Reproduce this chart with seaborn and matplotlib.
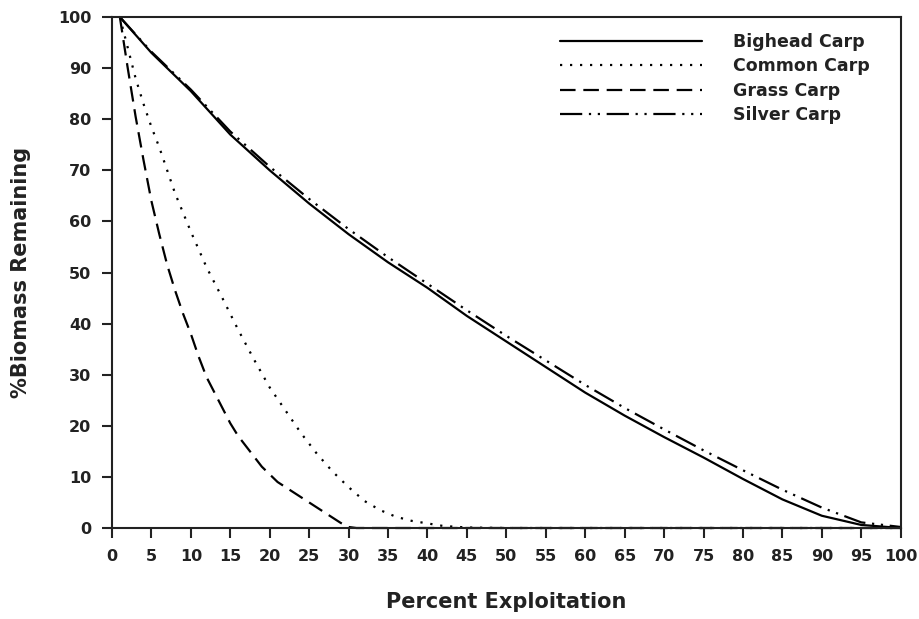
import pandas as pd
import matplotlib
matplotlib.use("Agg")
import matplotlib.pyplot as plt
import seaborn as sns

# values
pct_bighead = [1, 5, 10, 15, 20, 25, 30, 35, 40, 45, 50, 55, 60, 65, 70, 75, 80, 85, 90, 95, 100]
bighead = [100, 93, 85.5, 77, 70, 63.5, 57.5, 52, 47, 41.5, 36.5, 31.5, 26.5, 22, 17.8, 13.8, 9.6, 5.6, 2.4, 0.6, 0]

pct_silver = [1, 5, 10, 15, 20, 25, 30, 35, 40, 45, 50, 55, 60, 65, 70, 75, 80, 85, 90, 95, 100]
silver = [100, 93.2, 85.8, 77.6, 70.7, 64.4, 58.5, 53, 47.8, 42.6, 37.6, 32.8, 28, 23.5, 19.3, 15.2, 11.3, 7.5, 4, 1.1, 0.2]

pct_common = [1, 2, 3, 4, 5, 6, 8, 10, 12, 14, 16, 18, 20, 22, 24, 26, 28, 30, 32, 34, 36, 38, 40, 42, 45, 50, 60, 70, 80, 90, 100]
common = [100, 94, 88, 83, 78.5, 74.5, 65.5, 58, 51, 45, 38.8, 33, 27.5, 23, 18.5, 14.5, 11, 8, 5.3, 3.5, 2.2, 1.4, 0.9, 0.4, 0.1, 0, 0, 0, 0, 0, 0]

pct_grass = [1, 2, 3, 4, 5, 6, 7, 8, 9, 10, 11, 12, 13, 14, 15, 16, 17, 18, 19, 20, 21, 22, 23, 24, 25, 26, 27, 28, 29, 30, 31, 40, 50, 60, 70, 80, 90, 100]
grass = [100, 90, 80.5, 72, 64, 57.5, 51.5, 46.5, 42, 38, 33.5, 29.5, 26.5, 23.5, 20.5, 18, 16, 14, 12, 10.5, 9, 8, 7, 6, 5, 4, 3, 2, 1, 0.2, 0, 0, 0, 0, 0, 0, 0, 0]

species = ["Bighead Carp", "Common Carp", "Grass Carp", "Silver Carp"]

frames = []
for name, xs, ys in [("Bighead Carp", pct_bighead, bighead),
                     ("Common Carp", pct_common, common),
                     ("Grass Carp", pct_grass, grass),
                     ("Silver Carp", pct_silver, silver)]:
    frames.append(pd.DataFrame({"pct": xs, "biomass": ys, "species": name}))
df = pd.concat(frames, ignore_index=True)

sns.set_style("ticks")
plt.rcParams['font.family'] = ['DejaVu Sans']

fig = plt.figure(figsize=(9.2, 6.19), dpi=100)
ax = fig.add_axes([0.1217, 0.147, 0.8573, 0.8255])

dash_styles = {"Bighead Carp": "",
               "Common Carp": (1, 3.5),
               "Grass Carp": (7, 3.5),
               "Silver Carp": (10, 3, 1, 3, 1, 3)}

sns.lineplot(data=df, x="pct", y="biomass", hue="species", style="species",
             hue_order=species, style_order=species,
             palette=["black"] * 4, dashes=dash_styles, linewidth=1.6,
             sort=False, ax=ax, legend=True, clip_on=False)

ax.set_xlim(0, 100)
ax.set_ylim(0, 100)
ax.set_xticks(range(0, 101, 5))
ax.set_yticks(range(0, 101, 10))
for lab in ax.get_xticklabels() + ax.get_yticklabels():
    lab.set_fontweight('bold')
    lab.set_fontsize(11.5)
    lab.set_color('#222222')
ax.tick_params(axis='both', direction='out', length=7, width=1.5, color='#222222', pad=8)
for side in ['top', 'right', 'bottom', 'left']:
    ax.spines[side].set_visible(True)
    ax.spines[side].set_linewidth(1.5)
    ax.spines[side].set_color('#222222')

ax.set_xlabel('Percent Exploitation', fontsize=15, fontweight='bold', labelpad=20, color='#222222')
ax.set_ylabel('%Biomass Remaining', fontsize=15, fontweight='bold', labelpad=19, color='#222222')

leg = ax.legend(loc='upper left', bbox_to_anchor=(0.548, 1.0), frameon=False,
                handlelength=8.2, handletextpad=1.8, labelspacing=0.38,
                prop={'weight': 'bold', 'size': 12.5})
for t in leg.get_texts():
    t.set_color('#222222')

plt.savefig('out.png', dpi=100)
